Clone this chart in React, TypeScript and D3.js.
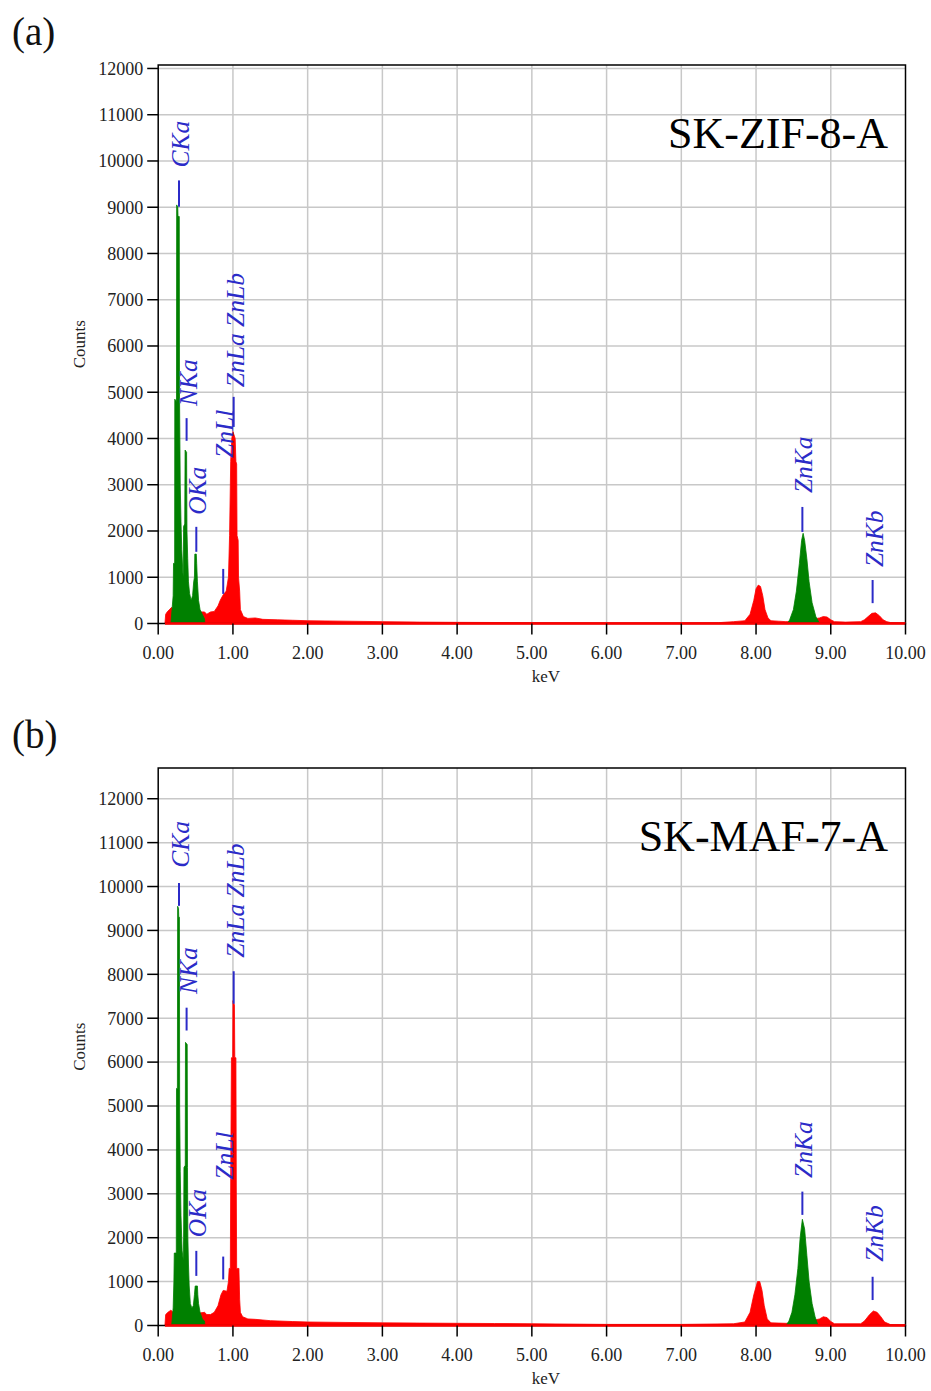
import React from 'react';
import * as d3 from 'd3';

// ---------- DATA ----------
const energyTicks = [0, 1, 2, 3, 4, 5, 6, 7, 8, 9, 10];
const countTicks = [0, 1000, 2000, 3000, 4000, 5000, 6000, 7000, 8000, 9000, 10000, 11000, 12000];

// Panel (a) SK-ZIF-8-A : [keV, counts]
const redSpectrumA: [number, number][] = [
  [0.09, 0], [0.1, 200], [0.12, 250], [0.15, 300], [0.18, 350], [0.2, 300], [0.4, 250],
  [0.62, 250], [0.65, 200], [0.7, 250], [0.75, 260], [0.8, 380], [0.83, 500], [0.87, 620],
  [0.91, 700], [0.94, 1000], [0.955, 1900], [0.97, 3500], [0.985, 4000], [1.0, 4150],
  [1.03, 4000], [1.04, 3500], [1.05, 3450], [1.055, 1900], [1.07, 1800], [1.075, 1000],
  [1.09, 700], [1.1, 300], [1.14, 150], [1.2, 110], [1.3, 120], [1.4, 90], [1.6, 80],
  [1.8, 70], [2.0, 60], [2.5, 50], [3.0, 40], [3.5, 30], [4.0, 25], [5.0, 18],
  [6.0, 15], [7.0, 15], [7.5, 18], [7.7, 40], [7.85, 60], [7.92, 200], [7.97, 500],
  [8.0, 750], [8.03, 830], [8.06, 800], [8.09, 600], [8.12, 300], [8.16, 120], [8.2, 60],
  [8.3, 50], [8.4, 40], [8.6, 50], [8.85, 120], [8.9, 150], [8.95, 140], [9.0, 80],
  [9.05, 40], [9.2, 30], [9.4, 40], [9.45, 80], [9.5, 150], [9.55, 220], [9.6, 230],
  [9.65, 170], [9.7, 80], [9.75, 40], [9.8, 20], [10.0, 15],
];
const greenLowA: [number, number][] = [
  [0.17, 0], [0.185, 300], [0.2, 600], [0.205, 1300], [0.22, 1300], [0.222, 4850],
  [0.245, 4800], [0.247, 9050], [0.262, 9000], [0.265, 8800], [0.282, 8800], [0.285, 5000],
  [0.295, 3000], [0.305, 2200], [0.315, 1600], [0.33, 1100], [0.335, 1000], [0.34, 2100],
  [0.355, 2150], [0.36, 3750], [0.38, 3700], [0.385, 2000], [0.395, 1400], [0.405, 900],
  [0.42, 650], [0.44, 500], [0.46, 600], [0.475, 900], [0.485, 1000], [0.49, 1500],
  [0.51, 1500], [0.515, 1300], [0.525, 900], [0.54, 500], [0.56, 300], [0.59, 200],
  [0.62, 100], [0.625, 0],
];
const greenZnKaA: [number, number][] = [
  [8.42, 0], [8.45, 80], [8.5, 300], [8.54, 700], [8.58, 1300], [8.61, 1800], [8.63, 1950],
  [8.65, 1800], [8.68, 1400], [8.71, 900], [8.75, 450], [8.8, 150], [8.85, 0],
];
// label: [name, keV, line bottom count, line top count, text start count]
const peakLabelsA: [string, number, number, number, number][] = [
  ['CKa', 0.278, 9010, 9580, 9860],
  ['NKa', 0.38, 3950, 4440, 4700],
  ['OKa', 0.51, 1550, 2090, 2350],
  ['ZnLl', 0.87, 640, 1180, 3580],
  ['ZnLa ZnLb', 1.01, 4250, 4900, 5110],
  ['ZnKa', 8.62, 1980, 2520, 2820],
  ['ZnKb', 9.56, 440, 940, 1220],
];

// Panel (b) SK-MAF-7-A
const redSpectrumB: [number, number][] = [
  [0.09, 0], [0.1, 250], [0.13, 300], [0.17, 350], [0.2, 300], [0.4, 250], [0.62, 300],
  [0.65, 250], [0.7, 250], [0.75, 300], [0.8, 450], [0.84, 700], [0.87, 800], [0.92, 780],
  [0.94, 1000], [0.95, 1300], [0.965, 1300], [0.97, 3200], [0.98, 6100], [0.997, 6100],
  [1.0, 7400], [1.02, 7300], [1.025, 6100], [1.04, 6100], [1.045, 3200], [1.05, 1300],
  [1.08, 1300], [1.09, 600], [1.1, 300], [1.13, 200], [1.2, 150], [1.3, 140], [1.5, 110],
  [1.8, 90], [2.0, 80], [2.5, 70], [3.0, 60], [3.5, 55], [4.0, 50], [4.5, 45], [5.0, 40],
  [6.0, 25], [7.0, 25], [7.7, 40], [7.85, 80], [7.92, 300], [7.97, 700], [8.02, 1000],
  [8.05, 1000], [8.08, 800], [8.11, 450], [8.15, 150], [8.2, 60], [8.4, 50], [8.6, 50],
  [8.85, 150], [8.9, 200], [8.95, 180], [9.0, 90], [9.05, 40], [9.4, 40], [9.45, 100],
  [9.52, 250], [9.57, 330], [9.62, 300], [9.67, 200], [9.72, 80], [9.8, 20], [10.0, 15],
];
const greenLowB: [number, number][] = [
  [0.18, 0], [0.2, 400], [0.21, 1000], [0.215, 1650], [0.242, 1650], [0.245, 5400],
  [0.257, 5400], [0.26, 9550], [0.272, 9500], [0.275, 9300], [0.284, 9300], [0.287, 5000],
  [0.295, 3500], [0.305, 2500], [0.32, 1700], [0.335, 1500], [0.34, 2000], [0.345, 3600],
  [0.362, 3650], [0.365, 6450], [0.388, 6400], [0.392, 3600], [0.397, 2000], [0.405, 1400],
  [0.415, 900], [0.43, 500], [0.45, 400], [0.47, 450], [0.485, 700], [0.495, 900],
  [0.525, 900], [0.53, 700], [0.54, 500], [0.56, 300], [0.59, 150], [0.62, 100], [0.625, 0],
];
const greenZnKaB: [number, number][] = [
  [8.4, 0], [8.44, 100], [8.48, 300], [8.52, 700], [8.56, 1300], [8.59, 2000], [8.62, 2420],
  [8.65, 2200], [8.68, 1600], [8.71, 1000], [8.75, 500], [8.79, 200], [8.83, 0],
];
const peakLabelsB: [string, number, number, number, number][] = [
  ['CKa', 0.278, 9560, 10080, 10430],
  ['NKa', 0.38, 6720, 7240, 7550],
  ['OKa', 0.51, 1130, 1700, 2010],
  ['ZnLl', 0.87, 1050, 1570, 3320],
  ['ZnLa ZnLb', 1.01, 7330, 8070, 8380],
  ['ZnKa', 8.62, 2520, 3050, 3360],
  ['ZnKb', 9.56, 580, 1110, 1450],
];

// ---------- STYLE / LAYOUT ----------
const RED = '#ff0000';
const GREEN = '#008000';
const LABEL_BLUE = '#2b2bc8';
const GRID = '#c8c8c8';
const FONT = '"Liberation Serif", "Times New Roman", serif';

interface PanelProps {
  letter: string;
  title: string;
  red: [number, number][];
  greens: [number, number][][];
  labels: [string, number, number, number, number][];
  yMax: number;
  top: number;
  bottom: number;
}

const LEFT = 158.2;
const RIGHT = 905.5;

function Panel({ letter, title, red, greens, labels, yMax, top, bottom }: PanelProps) {
  const x = d3.scaleLinear().domain([0, 10]).range([LEFT, RIGHT]);
  const y = d3.scaleLinear().domain([0, yMax]).range([bottom, top]);
  const area = d3
    .area<[number, number]>()
    .x((d) => x(d[0]))
    .y0(y(0))
    .y1((d) => y(d[1]))
    .curve(d3.curveLinear);
  const fmt = d3.format('.2f');
  const gridCounts = countTicks.filter((c) => c > 0);
  return (
    <g>
      <text x={12} y={top - 20} fontFamily={FONT} fontSize={39} fill="#111">
        ({letter})
      </text>
      {/* grid */}
      {energyTicks.slice(1, -1).map((e) => (
        <line key={'gx' + e} x1={x(e)} x2={x(e)} y1={top} y2={bottom} stroke={GRID} strokeWidth={1.5} />
      ))}
      {gridCounts.map((c) => (
        <line key={'gy' + c} x1={LEFT} x2={RIGHT} y1={y(c)} y2={y(c)} stroke={GRID} strokeWidth={1.5} />
      ))}
      {/* spectrum */}
      <path d={area(red) || ''} fill={RED} stroke={RED} strokeWidth={0.8} />
      {greens.map((g, i) => (
        <path key={'g' + i} d={area(g) || ''} fill={GREEN} stroke={GREEN} strokeWidth={0.8} />
      ))}
      {/* frame */}
      <rect x={LEFT} y={top} width={RIGHT - LEFT} height={bottom - top} fill="none" stroke="#000" strokeWidth={1.5} />
      <line x1={x(0.09)} x2={RIGHT} y1={bottom} y2={bottom} stroke={RED} strokeWidth={2.5} />
      {/* y ticks */}
      {countTicks.map((c) => (
        <g key={'yt' + c}>
          <line x1={LEFT - 11} x2={LEFT} y1={y(c)} y2={y(c)} stroke="#000" strokeWidth={1.5} />
          <text x={LEFT - 15} y={y(c)} dy="0.35em" textAnchor="end" fontFamily={FONT} fontSize={18} fill="#222">
            {c}
          </text>
        </g>
      ))}
      {/* x ticks */}
      {energyTicks.map((e) => (
        <g key={'xt' + e}>
          <line x1={x(e)} x2={x(e)} y1={bottom} y2={bottom + 11} stroke="#000" strokeWidth={1.5} />
          <text x={x(e)} y={bottom + 35} textAnchor="middle" fontFamily={FONT} fontSize={18} fill="#222">
            {fmt(e)}
          </text>
        </g>
      ))}
      <text x={546} y={bottom + 58} textAnchor="middle" fontFamily={FONT} fontSize={17} fill="#222">
        keV
      </text>
      <text
        transform={`translate(85, ${(top + bottom) / 2}) rotate(-90)`}
        textAnchor="middle"
        fontFamily={FONT}
        fontSize={17}
        fill="#222"
      >
        Counts
      </text>
      {/* peak labels */}
      {labels.map(([name, kev, c0, c1, ct]) => (
        <g key={name}>
          <line x1={x(kev)} x2={x(kev)} y1={y(c0)} y2={y(c1)} stroke={LABEL_BLUE} strokeWidth={2} />
          <text
            transform={`translate(${x(kev) + 10}, ${y(ct)}) rotate(-90)`}
            fontFamily={FONT}
            fontStyle="italic"
            fontSize={25.5}
            fill={LABEL_BLUE}
          >
            {name}
          </text>
        </g>
      ))}
      {/* title */}
      <text x={888} y={top + 83} textAnchor="end" fontFamily={FONT} fontSize={44} fill="#000">
        {title}
      </text>
    </g>
  );
}

export default function App() {
  return (
    <svg
      width={931}
      height={1391}
      style={{ position: 'absolute', left: 0, top: 0, background: '#fff' }}
    >
      <rect x={0} y={0} width={931} height={1391} fill="#fff" />
      <Panel
        letter="a"
        title="SK-ZIF-8-A"
        red={redSpectrumA}
        greens={[greenLowA, greenZnKaA]}
        labels={peakLabelsA}
        yMax={12075}
        top={65}
        bottom={623.5}
      />
      <Panel
        letter="b"
        title="SK-MAF-7-A"
        red={redSpectrumB}
        greens={[greenLowB, greenZnKaB]}
        labels={peakLabelsB}
        yMax={12700}
        top={768}
        bottom={1325.5}
      />
    </svg>
  );
}
